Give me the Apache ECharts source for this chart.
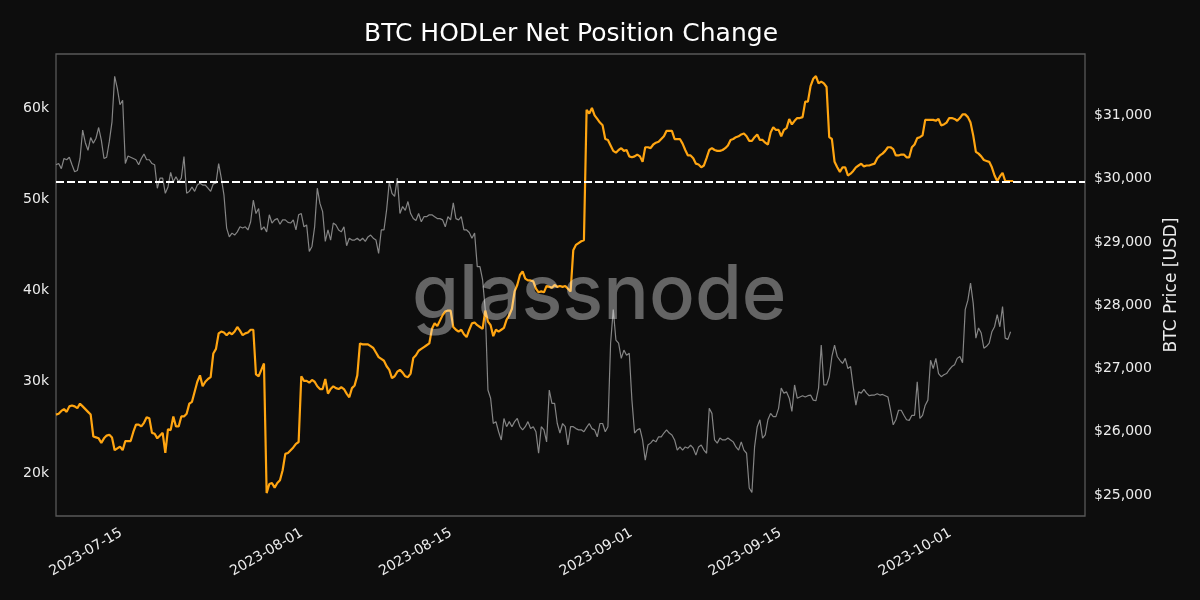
<!DOCTYPE html>
<html>
<head>
<meta charset="utf-8">
<style>html,body{margin:0;padding:0;background:#0d0d0d}#c{width:1200px;height:600px}</style>
<script src="https://cdn.jsdelivr.net/npm/echarts@6/dist/echarts.min.js"></script>
</head>
<body>
<div id="c"></div>
<script>
const chartTitle = 'BTC HODLer Net Position Change';
const priceAxisName = 'BTC Price [USD]';
const watermark = 'glassnode';
const tickDates = ['2023-07-15','2023-08-01','2023-08-15','2023-09-01','2023-09-15','2023-10-01'];
const positionTicks = [20000,30000,40000,50000,60000];
const priceTicks = [25000,26000,27000,28000,29000,30000,31000];
const seriesStart = '2023-07-08T16:44:00Z';
const sampleHours = 6.02;
const axisEnd = '2023-10-13T12:00:00Z';
const referenceLevel = 51900;

// BTC price, USD, one reading per sample
const btcPrice = [
30220,30240,30160,30320,30300,30340,30220,30110,30130,30320,30770,30570,30450,30650,30560,30640,30810,30610,30320,30340,30590,30900,31620,31430,31170,31240,30240,30360,30340,30320,30300,30220,30320,30390,30300,30300,30240,30220,29850,30010,30010,29770,29870,30100,29950,30030,29950,30010,30350,29770,29800,29870,29800,29900,29930,29900,29900,29850,29800,29920,29930,30240,30010,29740,29220,29080,29140,29110,29160,29240,29220,29240,29190,29320,29660,29450,29530,29190,29240,29160,29430,29300,29350,29370,29280,29350,29350,29310,29300,29350,29190,29430,29450,29240,29270,28850,28930,29240,29850,29610,29480,29010,29190,29030,29300,29270,29190,29160,29240,28940,29060,29030,29030,29060,29020,29060,29010,29080,29110,29060,29030,28820,29190,29190,29510,29950,29770,29720,30010,
29450,29560,29500,29640,29450,29370,29340,29450,29320,29400,29400,29430,29430,29400,29370,29370,29350,29240,29400,29350,29620,29370,29350,29400,29190,29190,29150,29060,29140,28610,28610,28400,
27930,26660,26530,26130,26160,26000,25870,26210,26080,26160,26080,26160,26210,26080,26030,26080,26160,26050,26080,26000,25660,26080,26030,25840,26660,26450,26450,26130,25980,26130,26080,25790,26080,26080,26050,26030,26030,26000,26070,26130,26050,26030,25920,26130,26130,26000,26080,
27400,27930,27450,27400,27160,27290,27210,27240,26500,25980,26030,26050,25870,25550,25790,25820,25870,25840,25920,25920,25980,26030,25980,25950,25870,25710,25760,25710,25760,25740,25790,25740,25630,25760,25790,25710,25660,26370,26290,25870,25820,25900,25870,25870,25900,25870,25840,25760,25710,25840,25710,25660,25110,
25040,25760,26080,26190,25900,25950,26190,26290,26240,26240,26370,26690,26610,26630,26530,26320,26740,26530,26550,26570,26550,26570,26580,26500,26490,26690,27370,26740,26740,26870,27190,27370,27190,27130,27080,27160,27000,27030,26710,26420,26630,26610,26670,26610,26570,26580,26580,26600,26580,26590,26570,26550,26340,26110,26190,26340,26340,26260,26190,26180,26260,26260,26790,26210,26260,26420,26500,27130,27000,27160,26920,26870,26900,26920,26980,27030,27060,27160,27190,27090,27930,28080,28350,28030,27480,27640,27560,27320,27350,27400,27580,27660,27850,27660,27980,27480,27460,27580
];

// HODLer net position change, one reading per sample
const netPosition = [
26400,26500,26800,27000,26700,27300,27400,27300,27100,27600,27300,27000,26700,26400,24000,23900,23800,23300,23800,24100,24200,23900,22500,22700,22900,22500,23500,23500,23500,24500,25300,25300,25100,25500,26100,26000,24400,24300,23800,24100,24400,22200,24800,24700,26200,25100,25100,26200,26200,26500,27600,27800,28900,30000,30700,29500,30000,30300,30500,33100,33600,35300,35500,35400,35100,35400,35200,35500,36000,35600,35100,35300,35400,35700,35700,30800,30600,31300,32000,17800,18800,18900,18400,18900,19200,20300,22100,22200,22500,22800,23200,23400,30600,30100,30100,29900,30200,30000,29500,29200,29200,30300,28700,29200,29500,29300,29200,29400,29200,28700,28300,29300,29600,30700,34200,34100,34100,34100,33900,33700,33200,32700,32500,32300,31700,31300,30400,30600,31100,
31300,31000,30600,30500,30900,32600,32900,33400,33600,33800,34000,34200,35800,36400,36100,36700,37300,37700,37800,37800,36000,35700,35500,35700,35200,34900,35700,36400,36500,36200,36000,35800,37800,36600,36200,35000,35700,35500,35700,35900,36800,37300,38000,39900,40600,41700,42100,41300,41100,41100,41000,40200,39800,39900,39800,40500,40400,40300,40600,40400,40500,40400,40500,40200,39900,44400,45000,45200,45400,45500,59800,59400,60000,59200,58800,58400,58100,56600,56500,55900,55300,55100,55400,55600,55300,55400,54700,54600,54700,54900,54700,54100,55700,55700,55600,56000,56200,56300,56600,56900,57500,57500,57500,56600,56600,56600,56100,55400,54800,54800,54500,53900,53800,53500,53700,54500,55400,55600,55400,55300,55300,55400,55600,55900,56500,56600,56800,56900,57100,57200,56900,56400,
56400,56800,57100,56500,56500,56200,56000,57300,57900,57600,57600,56900,57600,57800,58800,58200,58600,58900,58900,59000,60700,60700,62400,63200,63500,62700,62900,62700,62300,56800,56600,54100,53500,53000,53500,53500,52600,52800,53100,53500,53700,53900,53600,53700,53700,53800,53900,54500,54800,55000,55300,55700,55700,55500,54800,54800,54900,54900,54600,54600,55700,56000,56700,56800,57000,58700,58700,58700,58700,58600,58800,58100,58200,58400,58900,58900,58800,58600,58900,59300,59300,59000,58400,57000,55200,55000,54700,54300,54200,54100,53500,52600,52000,52500,52900,52000,52000,52000,52000
];

const t0 = Date.parse(seriesStart);
const sampleTime = i => t0 + i * sampleHours * 3600000;
const toPairs = arr => arr.map((v, i) => [sampleTime(i), v]);
const tickTimes = tickDates.map(d => Date.parse(d + 'T00:00:00Z'));
const labelColor = '#ececec';
const font = 'DejaVu Sans';

const chart = echarts.init(document.getElementById('c'), null, {renderer: 'canvas'});
chart.setOption({
  animation: false,
  backgroundColor: '#0d0d0d',
  title: {
    text: chartTitle, left: 566, top: 17, textAlign: 'center',
    textStyle: {color: '#fff', fontFamily: font, fontSize: 25, fontWeight: 'normal'}
  },
  grid: {left: 56, right: 115, top: 54, bottom: 84, show: true, borderColor: '#585858', borderWidth: 1.3, backgroundColor: 'transparent'},
  xAxis: {
    type: 'value', min: t0, max: Date.parse(axisEnd), scale: true,
    axisLine: {show: false}, axisTick: {show: false}, splitLine: {show: false},
    axisLabel: {
      customValues: tickTimes, rotate: 30, color: labelColor, fontFamily: font, fontSize: 14, margin: 15,
      padding: [0, 2, 0, 0], hideOverlap: false,
      formatter: v => new Date(v).toISOString().slice(0, 10)
    }
  },
  yAxis: [
    {
      type: 'value', min: 15288, max: 65918, position: 'left',
      axisLine: {show: false}, axisTick: {show: false}, splitLine: {show: false},
      axisLabel: {customValues: positionTicks, color: labelColor, fontFamily: font, fontSize: 14, margin: 7,
        verticalAlign: 'top', padding: [-7, 0, 0, 0], formatter: v => (v / 1000) + 'k'}
    },
    {
      type: 'value', min: 24668, max: 31972, position: 'right',
      name: priceAxisName, nameLocation: 'middle', nameRotate: 90, nameGap: 76,
      nameTextStyle: {color: labelColor, fontFamily: font, fontSize: 17},
      axisLine: {show: false}, axisTick: {show: false}, splitLine: {show: false},
      axisLabel: {customValues: priceTicks, color: labelColor, fontFamily: font, fontSize: 14, margin: 9,
        verticalAlign: 'top', padding: [-7, 0, 0, 0], formatter: v => '$' + v.toLocaleString('en-US')}
    }
  ],
  series: [
    {type: 'line', name: 'BTC Price', yAxisIndex: 1, data: toPairs(btcPrice), showSymbol: false, symbol: 'none', sampling: 'none',
      lineStyle: {color: '#858585', width: 1.2}, z: 2},
    {type: 'line', name: 'Net Position', yAxisIndex: 0, data: toPairs(netPosition), showSymbol: false, symbol: 'none', sampling: 'none',
      lineStyle: {color: '#ffa511', width: 2.2}, z: 3,
      markLine: {silent: true, symbol: 'none', label: {show: false}, animation: false,
        lineStyle: {color: '#fff', width: 2, type: [8, 3]}, data: [{yAxis: referenceLevel}]}}
  ],
  graphic: [{
    type: 'text', left: 412, top: 258, z: 100, silent: true,
    style: {text: watermark, fill: 'rgba(255,255,255,0.36)', font: '500 76px Inter'}
  }]
});
</script>
</body>
</html>
